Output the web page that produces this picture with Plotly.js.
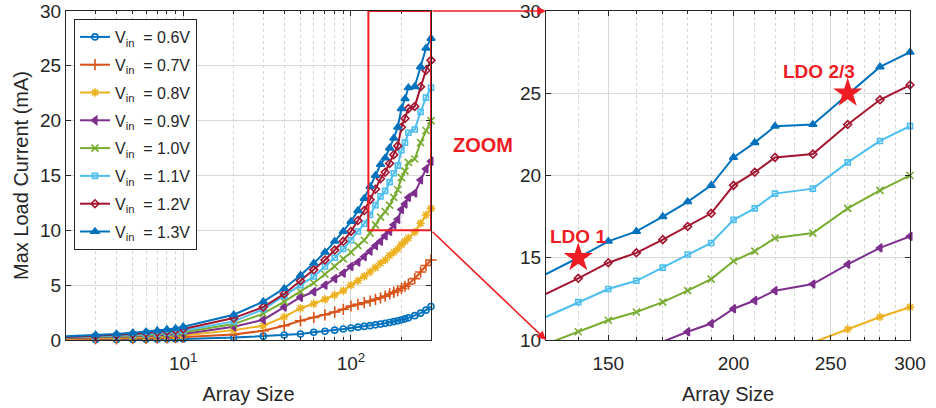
<!DOCTYPE html>
<html><head><meta charset="utf-8">
<script src="https://cdn.plot.ly/plotly-3.0.1.min.js"></script>
<style>html,body{margin:0;padding:0;background:#fff}#chart{width:936px;height:408px}</style>
</head><body><div id="chart"></div>
<script>
// ---------------- data ----------------
const arraySize = [2,3,4,5,6,7,8,9,10,20,30,40,50,60,70,80,90,100,110,120,130,140,150,160,170,180,190,200,210,220,240,260,280,300];
const seriesNames = ['V<sub>in</sub>\u00a0 = 0.6V','V<sub>in</sub>\u00a0 = 0.7V','V<sub>in</sub>\u00a0 = 0.8V','V<sub>in</sub>\u00a0 = 0.9V','V<sub>in</sub>\u00a0 = 1.0V','V<sub>in</sub>\u00a0 = 1.1V','V<sub>in</sub>\u00a0 = 1.2V','V<sub>in</sub>\u00a0 = 1.3V'];
const vin06 = [0.02,0.03,0.04,0.05,0.06,0.07,0.08,0.09,0.10, 0.22,0.35,0.45,0.55,0.70,0.80,0.90,1.00, 1.10,1.17,1.24,1.31,1.38,1.45,1.52,1.60,1.68,1.76,1.84,1.93,2.02,2.22,2.45,2.72,3.05];
const vin07 = [0.07,0.09,0.11,0.13,0.15,0.17,0.19,0.22,0.25, 0.50,0.85,1.30,1.75,2.05,2.30,2.55,2.80, 3.10,3.25,3.40,3.55,3.70,3.85,4.00,4.20,4.35,4.50,4.70,4.90,5.10,5.60,6.20,6.80,7.30];
const vin08 = [0.12,0.16,0.19,0.23,0.26,0.29,0.32,0.36,0.40, 0.90,1.30,2.10,2.90,3.30,3.70,4.10,4.50, 5.00,5.40,5.80,6.20,6.60,7.00,7.30,7.70,8.00,8.30,8.70,9.00,9.30,9.85,10.65,11.40,12.00];
const vin09 = [0.16,0.21,0.26,0.31,0.36,0.41,0.45,0.50,0.55, 1.20,1.85,3.00,3.90,4.40,5.00,5.60,6.10, 6.70,7.10,7.60,8.10,8.60,9.00,9.50,9.90,10.50,11.00,11.90,12.40,13.00,13.40,14.60,15.60,16.30];
const vin10 = [0.20,0.26,0.32,0.38,0.44,0.50,0.56,0.62,0.70, 1.45,2.40,3.50,4.40,5.20,6.00,6.70,7.40, 8.00,8.60,9.10,9.75,10.50,11.20,11.70,12.30,13.00,13.70,14.80,15.40,16.20,16.50,18.00,19.10,20.00];
const vin11 = [0.24,0.31,0.38,0.46,0.53,0.60,0.67,0.75,0.85, 1.70,2.80,4.00,5.00,5.80,6.70,7.50,8.30, 9.10,9.90,10.60,11.40,12.30,13.10,13.60,14.40,15.20,15.90,17.30,18.00,18.90,19.20,20.80,22.10,23.00];
const vin12 = [0.28,0.37,0.46,0.55,0.63,0.72,0.80,0.90,1.00, 2.00,3.00,4.20,5.40,6.40,7.30,8.20,9.00, 9.90,10.90,11.80,12.80,13.75,14.70,15.30,16.10,16.90,17.70,19.40,20.20,21.10,21.30,23.10,24.60,25.50];
const vin13 = [0.35,0.45,0.55,0.65,0.75,0.85,0.95,1.05,1.20, 2.30,3.50,4.70,5.90,7.00,8.00,9.00,9.90, 10.80,11.80,12.90,14.00,15.00,16.00,16.60,17.50,18.40,19.40,21.10,22.00,23.00,23.10,24.90,26.60,27.50];
const ldoX = [140, 260];
const ldoY = [15, 25];
const ldoLabels = ['LDO 1', 'LDO 2/3'];
const leftTickVals = [10, 100];
const leftTickText = ['10<sup>1</sup>', '10<sup>2</sup>'];
const leftMinorVals = [2,3,4,5,6,7,8,9,20,30,40,50,60,70,80,90,200,300];
const rightTickVals = [150, 200, 250, 300];
const rightMinorVals = [140,160,170,180,190,210,220,230,240,260,270,280,290];
const yTickVals = [0,5,10,15,20,25,30];
const zoomXRange = [130, 300];
const zoomYRange = [10, 30];
const boxXRange = [127, 300];

// ---------------- styles ----------------
const allSeries = [vin06, vin07, vin08, vin09, vin10, vin11, vin12, vin13];
const colors = ['#0072BD','#D95319','#EDB120','#7E2F8E','#77AC30','#4DBEEE','#A2142F','#0072BD'];
const symbols = ['circle-open','cross-thin-open','asterisk-open','triangle-left','x-thin-open','square-open','diamond-open','triangle-up'];
const msizes = [6,8,7,7,7,5,6,7];
const RED = '#EE1C24';
const TXT = '#262626';
const FONT = 'Liberation Sans, Arial, sans-serif';

const W = 936, H = 408;
const dom1 = [66/W, 431/W];
const dom2 = [546/W, 910/W];
const ydom = [1 - 340/H, 1 - 11/H];

const traces = [];
allSeries.forEach((ys, i) => {
  const mk = {symbol: symbols[i], size: msizes[i], color: colors[i], line: {color: colors[i], width: 1.6}};
  traces.push({
    x: arraySize, y: ys, type: 'scatter', mode: 'lines+markers', name: seriesNames[i],
    legendgroup: 'g' + i, xaxis: 'x', yaxis: 'y', cliponaxis: false,
    line: {color: colors[i], width: 2}, marker: mk
  });
});
// right (zoomed) panel: lines clipped, markers only for points inside the zoom window
allSeries.forEach((ys, i) => {
  traces.push({
    x: arraySize, y: ys, type: 'scatter', mode: 'lines', showlegend: false,
    xaxis: 'x2', yaxis: 'y2', line: {color: colors[i], width: 2}, hoverinfo: 'skip'
  });
  const xs = [], yv = [];
  arraySize.forEach((xv, k) => {
    if (xv >= zoomXRange[0] && xv <= zoomXRange[1] && ys[k] >= zoomYRange[0] && ys[k] <= zoomYRange[1]) { xs.push(xv); yv.push(ys[k]); }
  });
  traces.push({
    x: xs, y: yv, type: 'scatter', mode: 'markers', showlegend: false, cliponaxis: false,
    xaxis: 'x2', yaxis: 'y2',
    marker: {symbol: symbols[i], size: msizes[i], color: colors[i], line: {color: colors[i], width: 1.6}}
  });
});
traces.push({
  x: ldoX, y: ldoY, type: 'scatter', mode: 'markers', showlegend: false, cliponaxis: false,
  xaxis: 'x2', yaxis: 'y2', marker: {symbol: 'star', size: 22, color: RED, line: {width: 0}}
});

const baseX = {
  type: 'log', showline: true, linecolor: TXT, linewidth: 1, mirror: 'ticks',
  ticks: 'inside', ticklen: 5, tickcolor: TXT, zeroline: false,
  showgrid: true, gridcolor: '#d9d9d9', gridwidth: 1,
  tickfont: {family: FONT, size: 19, color: TXT}, ticklabelstandoff: 6,
  title: {text: 'Array Size', font: {family: FONT, size: 20, color: TXT}, standoff: 14},
  anchor: 'y'
};
const baseY = {
  showline: true, linecolor: TXT, linewidth: 1, mirror: 'ticks',
  ticks: 'inside', ticklen: 5, tickcolor: TXT, zeroline: false,
  showgrid: true, gridcolor: '#d9d9d9', gridwidth: 1,
  tickfont: {family: FONT, size: 19, color: TXT}, tickvals: yTickVals
};

const layout = {
  width: W, height: H,
  margin: {l: 0, r: 0, t: 0, b: 0},
  paper_bgcolor: '#fff', plot_bgcolor: '#fff',
  font: {family: FONT, color: TXT},
  showlegend: true,
  legend: {
    x: 74/W, y: 1 - 19/H, xanchor: 'left', yanchor: 'top',
    bgcolor: '#fff', bordercolor: TXT, borderwidth: 1,
    font: {family: FONT, size: 16, color: TXT},
    tracegroupgap: 4, itemwidth: 30
  },
  xaxis: Object.assign({}, baseX, {
    domain: dom1, range: [Math.log10(2), Math.log10(300)],
    tickmode: 'array', tickvals: leftTickVals, ticktext: leftTickText,
    minor: {tickmode: 'array', tickvals: leftMinorVals, ticks: 'inside', ticklen: 3, tickcolor: TXT,
            showgrid: true, gridcolor: '#d4d4d4', griddash: 'dot', gridwidth: 1},
    anchor: 'y'
  }),
  yaxis: Object.assign({}, baseY, {
    domain: ydom, range: [0, 30], anchor: 'x',
    title: {text: 'Max Load Current (mA)', font: {family: FONT, size: 20, color: TXT}, standoff: 6}
  }),
  xaxis2: Object.assign({}, baseX, {
    domain: dom2, range: [Math.log10(zoomXRange[0]), Math.log10(zoomXRange[1])],
    tickmode: 'array', tickvals: rightTickVals,
    minor: {tickmode: 'array', tickvals: rightMinorVals, ticks: 'inside', ticklen: 3, tickcolor: TXT,
            showgrid: true, gridcolor: '#d4d4d4', griddash: 'dot', gridwidth: 1},
    anchor: 'y2'
  }),
  yaxis2: Object.assign({}, baseY, {
    domain: ydom, range: zoomYRange, anchor: 'x2'
  }),
  shapes: [{
    type: 'rect', xref: 'x', yref: 'y', x0: boxXRange[0], x1: boxXRange[1], y0: zoomYRange[0], y1: zoomYRange[1],
    line: {color: RED, width: 2}, fillcolor: 'rgba(0,0,0,0)', layer: 'above'
  }],
  annotations: []
};

const gapPx = (dom2[0] - dom1[1]) * W;
const plotH = (ydom[1] - ydom[0]) * H;
layout.annotations.push({
  xref: 'x2 domain', yref: 'y2 domain', x: 0, y: 1, axref: 'pixel', ayref: 'pixel',
  ax: -gapPx, ay: 0, showarrow: true, arrowhead: 2, arrowsize: 1.1, arrowwidth: 1.6, arrowcolor: RED, text: ''
});
layout.annotations.push({
  xref: 'x2 domain', yref: 'y2 domain', x: 0, y: 0, axref: 'pixel', ayref: 'pixel',
  ax: -gapPx, ay: -plotH * (zoomYRange[0] - 0) / 30, showarrow: true, arrowhead: 2, arrowsize: 1.1, arrowwidth: 1.6, arrowcolor: RED, text: ''
});
layout.annotations.push({
  xref: 'paper', yref: 'paper', x: 483/W, y: 1 - 145/H, showarrow: false,
  text: '<b>ZOOM</b>', font: {family: FONT, size: 20, color: RED}
});
const ldoShift = [[0, 21], [-29, 22]];
ldoX.forEach((xv, i) => {
  layout.annotations.push({
    xref: 'x2', yref: 'y2', x: Math.log10(xv), y: ldoY[i], showarrow: false,
    xshift: ldoShift[i][0], yshift: ldoShift[i][1],
    text: '<b>' + ldoLabels[i] + '</b>', font: {family: FONT, size: 19, color: RED}
  });
});

Plotly.newPlot('chart', traces, layout, {staticPlot: true, displayModeBar: false});
</script></body></html>
